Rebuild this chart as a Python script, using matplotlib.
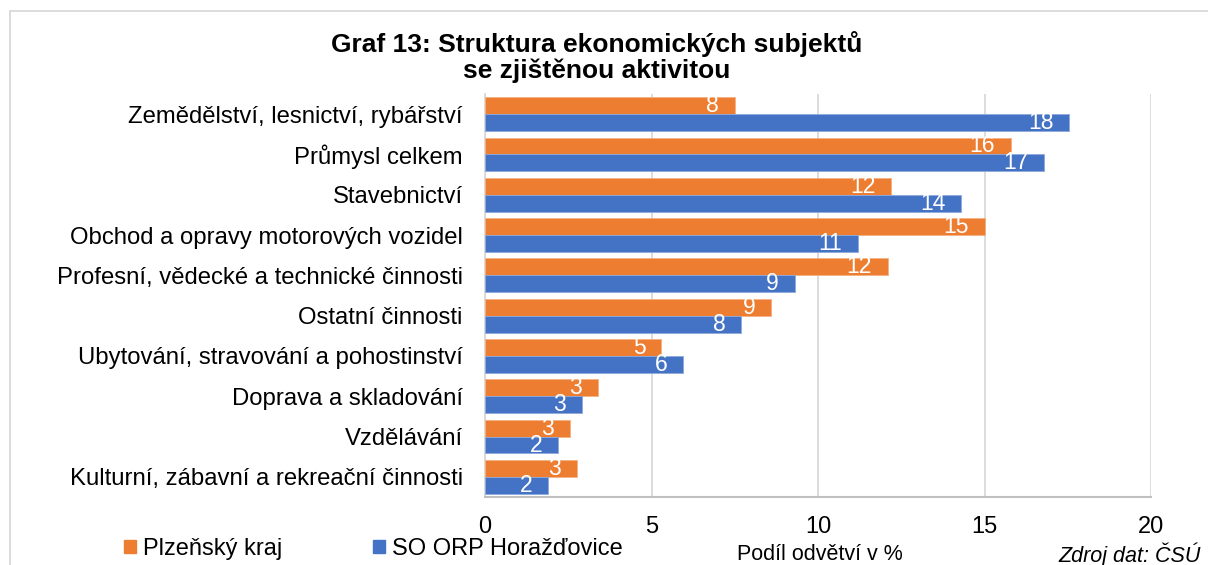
import matplotlib.pyplot as plt
from matplotlib.patches import Patch, Rectangle
import numpy as np

plt.rcParams['font.family'] = ['Liberation Sans', 'DejaVu Sans']

# data
categories = [
    "Zemědělství, lesnictví, rybářství",
    "Průmysl celkem",
    "Stavebnictví",
    "Obchod a opravy motorových vozidel",
    "Profesní, vědecké a technické činnosti",
    "Ostatní činnosti",
    "Ubytování, stravování a pohostinství",
    "Doprava a skladování",
    "Vzdělávání",
    "Kulturní, zábavní a rekreační činnosti",
]
plzensky = [7.5, 15.8, 12.2, 15.0, 12.1, 8.6, 5.3, 3.4, 2.55, 2.75]
horazdovice = [17.55, 16.8, 14.3, 11.2, 9.3, 7.7, 5.95, 2.9, 2.2, 1.9]
series_names = ["Plzeňský kraj", "SO ORP Horažďovice"]
xticks = [0, 5, 10, 15, 20]

orange = "#ED7D31"
blue = "#4472C4"
grid_c = "#D9D9D9"

fig = plt.figure(figsize=(12.08, 5.65), dpi=100)
ax = fig.add_axes([485 / 1208, 1 - 497 / 565, (1151 - 485) / 1208, (497 - 94) / 565])

# outer chart border
fig.patches.append(Rectangle((10 / 1208, -0.05), 1.1, 1 - 11 / 565 + 0.05,
                             transform=fig.transFigure, fill=False,
                             edgecolor=grid_c, lw=1.3, zorder=0))

y = np.arange(len(categories))
h = 0.42
bars_o = ax.barh(y - h / 2, plzensky, height=h, color=orange,
                 edgecolor="#F4B183", lw=0.6, zorder=3)
bars_b = ax.barh(y + h / 2, horazdovice, height=h, color=blue,
                 edgecolor="#8FAADC", lw=0.6, zorder=3)

for bars, vals in [(bars_o, plzensky), (bars_b, horazdovice)]:
    for b, v in zip(bars, vals):
        ax.annotate(f"{round(v)}", (v, b.get_y() + b.get_height() / 2),
                    xytext=(-16, 0), textcoords="offset pixels",
                    ha="right", va="center", color="white", fontsize=16.5,
                    zorder=4)

ax.set_xlim(0, 20)
ax.set_ylim(len(categories) - 0.5, -0.5)
ax.set_xticks(xticks)
ax.set_yticks(y)
ax.set_yticklabels(categories, fontsize=17.2)
ax.tick_params(axis="y", length=0, pad=16)
ax.tick_params(axis="x", length=0, pad=13.5, labelsize=17)
ax.grid(axis="x", color=grid_c, lw=1.3, zorder=0)
for s in ["top", "right"]:
    ax.spines[s].set_visible(False)
ax.spines["left"].set_color(grid_c)
ax.spines["left"].set_linewidth(1.3)
ax.spines["bottom"].set_color("#BFBFBF")
ax.spines["bottom"].set_linewidth(1.5)

fig.text(597 / 1208, 1 - 57 / 565,
         "Graf 13: Struktura ekonomických subjektů\nse zjištěnou aktivitou",
         ha="center", va="center", fontsize=19, fontweight="bold",
         linespacing=1.12)

handles = [Patch(color=orange), Patch(color=blue)]
fig.legend(handles, series_names, loc="center left",
           bbox_to_anchor=(103 / 1208, 1 - 549 / 565), ncol=2, frameon=False,
           fontsize=17, handlelength=0.5, handleheight=0.5,
           handletextpad=0.3, columnspacing=3.85)

fig.text(820 / 1208, 1 - 554 / 565, "Podíl odvětví v %", ha="center",
         va="center", fontsize=15.5)
fig.text(1058 / 1208, 1 - 555 / 565, "Zdroj dat: ČSÚ", ha="left",
         va="center", fontsize=15.5, style="italic")

fig.savefig("out.png", dpi=100)
